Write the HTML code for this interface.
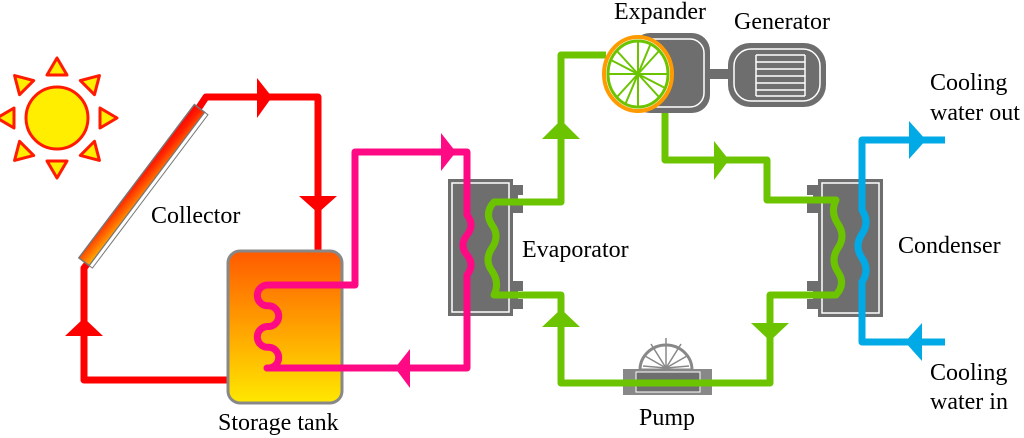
<!DOCTYPE html>
<html><head><meta charset="utf-8"><style>
html,body{margin:0;padding:0;background:#fff;width:1024px;height:438px;overflow:hidden}
text{font-family:"Liberation Serif",serif;font-size:24px;fill:#000}
</style></head><body>
<svg width="1024" height="438" viewBox="0 0 1024 438" xmlns="http://www.w3.org/2000/svg">
<defs>
<linearGradient id="tank" x1="0" y1="0" x2="0" y2="1"><stop offset="0" stop-color="#ff5a00"/><stop offset="1" stop-color="#ffe800"/></linearGradient>
<linearGradient id="col" x1="0" y1="1" x2="1" y2="0"><stop offset="0" stop-color="#ffb000"/><stop offset="0.7" stop-color="#ff2000"/><stop offset="1" stop-color="#ff0000"/></linearGradient>
</defs>
<!-- sun -->
<g fill="#ffee00" stroke="#ff1a00" stroke-width="3" stroke-linejoin="round">
<circle cx="57" cy="118" r="31"/>
<g id="ray"><polygon points="47,75 67,75 57,58"/></g>
<use href="#ray" transform="rotate(45 57 118)"/><use href="#ray" transform="rotate(90 57 118)"/><use href="#ray" transform="rotate(135 57 118)"/><use href="#ray" transform="rotate(180 57 118)"/><use href="#ray" transform="rotate(225 57 118)"/><use href="#ray" transform="rotate(270 57 118)"/><use href="#ray" transform="rotate(315 57 118)"/>
</g>
<!-- red loop -->
<g fill="none" stroke="#ff0000" stroke-width="7" stroke-linejoin="round">
<polyline points="196,112 206,97 318,97 318,252"/>
<polyline points="92,258 84,268 84,380 228,380"/>
</g>
<g fill="#ff0000">
<polygon points="257,78 257,118 272,97"/>
<polygon points="299,196 337,196 318,213"/>
<polygon points="65,336 103,336 84,318"/>
</g>
<!-- collector -->
<g transform="translate(143,186) rotate(-53)">
<rect x="-96" y="-8" width="192" height="13" fill="url(#col)" stroke="#777" stroke-width="1.5"/>
<rect x="-96" y="5" width="192" height="4" fill="#fff" stroke="#777" stroke-width="1"/>
</g>
<!-- tank -->
<rect x="228" y="251" width="114" height="152" rx="12" fill="url(#tank)" stroke="#888" stroke-width="3"/>
<!-- evaporator -->
<rect x="448" y="179" width="65" height="137" fill="#6e6e6e"/>
<rect x="452" y="183" width="57" height="129" fill="none" stroke="#fff" stroke-width="1.5"/>
<rect x="513" y="185" width="10" height="10" fill="#6e6e6e"/><rect x="513" y="203" width="10" height="10" fill="#6e6e6e"/><rect x="513" y="185" width="5" height="28" fill="#6e6e6e"/>
<rect x="513" y="281" width="10" height="10" fill="#6e6e6e"/><rect x="513" y="299" width="10" height="10" fill="#6e6e6e"/><rect x="513" y="281" width="5" height="28" fill="#6e6e6e"/>
<!-- pink -->
<g fill="none" stroke="#ff0a84" stroke-width="7" stroke-linejoin="round">
<path d="M355,285 L267,285 a10.4,10.4 0 0 0 0,20.75 l2,0 a10.4,10.4 0 0 1 0,20.75 l-2,0 a10.4,10.4 0 0 0 0,20.75 l2,0 a10.4,10.4 0 0 1 0,20.75 l-2,0 L467,368 L467,275 Q475,265 467,255 Q459,245 467,235 Q475,225 467,215 L467,152 L355,152 Z"/>
</g>
<g fill="#ff0a84">
<polygon points="441,133 441,171 456,152"/>
<polygon points="410,349 410,388 395,368"/>
</g>
<!-- condenser -->
<rect x="818" y="179" width="65" height="138" fill="#6e6e6e"/>
<rect x="822" y="183" width="57" height="130" fill="none" stroke="#fff" stroke-width="1.5"/>
<rect x="807" y="185" width="11" height="10" fill="#6e6e6e"/><rect x="807" y="203" width="11" height="10" fill="#6e6e6e"/><rect x="813" y="185" width="5" height="28" fill="#6e6e6e"/>
<rect x="807" y="281" width="11" height="10" fill="#6e6e6e"/><rect x="807" y="299" width="11" height="10" fill="#6e6e6e"/><rect x="813" y="281" width="5" height="28" fill="#6e6e6e"/>
<!-- green -->
<g fill="none" stroke="#6cc400" stroke-width="7" stroke-linejoin="round">
<path d="M606,55 L561,55 L561,202 L494,202 Q484,213 492,225 Q500,236 492,248 Q484,260 492,271 Q500,283 494,295 L561,295 L561,383 L770,383 L770,295 L836,295 Q846,284 838,272 Q830,260 838,248 Q846,236 838,224 Q830,212 836,200 L767,200 L767,160 L665,160 L665,113"/>
</g>
<g fill="#6cc400">
<polygon points="542,139 580,139 561,120"/>
<polygon points="542,327 580,327 561,309"/>
<polygon points="751,323 789,323 770,341"/>
<polygon points="714,141 714,180 729,160"/>
</g>
<!-- blue -->
<g fill="none" stroke="#00aae6" stroke-width="7" stroke-linejoin="round">
<path d="M945,140 L862,140 L862,210 Q870,222 862,234 Q854,246 862,258 Q870,270 862,282 L862,342 L945,342"/>
</g>
<g fill="#00aae6">
<polygon points="909,121 909,159 926,140"/>
<polygon points="922,323 922,361 905,342"/>
</g>
<!-- expander & generator -->
<rect x="632" y="33" width="78" height="80" rx="18" fill="#6e6e6e"/>
<rect x="638" y="39" width="66" height="68" rx="14" fill="none" stroke="#fff" stroke-width="1.5"/>
<rect x="708" y="69" width="22" height="10" fill="#6e6e6e"/>
<rect x="728" y="43" width="98" height="64" rx="22" fill="#6e6e6e"/>
<rect x="734" y="49" width="86" height="52" rx="17" fill="none" stroke="#fff" stroke-width="1.5"/>
<g stroke="#fff" stroke-width="1.5"><line x1="756" y1="55" x2="756" y2="96"/><line x1="805" y1="55" x2="805" y2="96"/>
<line x1="756" y1="55" x2="805" y2="55"/><line x1="756" y1="62" x2="805" y2="62"/><line x1="756" y1="69" x2="805" y2="69"/><line x1="756" y1="76" x2="805" y2="76"/><line x1="756" y1="83" x2="805" y2="83"/><line x1="756" y1="90" x2="805" y2="90"/><line x1="756" y1="96" x2="805" y2="96"/></g>
<ellipse cx="638" cy="74" rx="34" ry="37" fill="#fff" stroke="#ff9a00" stroke-width="4"/>
<ellipse cx="638" cy="74" rx="30" ry="33" fill="none" stroke="#6cc400" stroke-width="3"/>
<g stroke="#6cc400" stroke-width="2">
<line x1="638" y1="74" x2="638" y2="42"/><line x1="638" y1="74" x2="638" y2="106"/><line x1="638" y1="74" x2="609" y2="74"/><line x1="638" y1="74" x2="667" y2="74"/>
<line x1="638" y1="74" x2="617" y2="51"/><line x1="638" y1="74" x2="659" y2="97"/><line x1="638" y1="74" x2="659" y2="51"/><line x1="638" y1="74" x2="617" y2="97"/>
<line x1="638" y1="74" x2="611" y2="60"/><line x1="638" y1="74" x2="665" y2="88"/><line x1="638" y1="74" x2="651" y2="43"/><line x1="638" y1="74" x2="625" y2="105"/>
</g>
<!-- pump -->
<path d="M640,370 a26,25 0 1 1 52,0 z" fill="#fff" stroke="#888" stroke-width="3"/>
<g stroke="#888" stroke-width="1.5"><line x1="666" y1="368" x2="666" y2="338"/><line x1="666" y1="368" x2="645" y2="356"/><line x1="666" y1="368" x2="687" y2="356"/><line x1="666" y1="368" x2="651" y2="344"/><line x1="666" y1="368" x2="681" y2="344"/><line x1="666" y1="368" x2="643" y2="366"/><line x1="666" y1="368" x2="689" y2="366"/></g>
<rect x="623" y="369" width="89" height="26" fill="#888"/>
<rect x="636" y="372" width="64" height="20" fill="#6e6e6e" stroke="#fff" stroke-width="1"/>
<line x1="600" y1="383" x2="730" y2="383" stroke="#6cc400" stroke-width="7"/>
<!-- labels -->
<text x="151" y="223">Collector</text>
<text x="218" y="430">Storage tank</text>
<text x="522" y="257">Evaporator</text>
<text x="614" y="19">Expander</text>
<text x="734" y="29">Generator</text>
<text x="930" y="90">Cooling</text>
<text x="930" y="120">water out</text>
<text x="898" y="253">Condenser</text>
<text x="639" y="425">Pump</text>
<text x="930" y="380">Cooling</text>
<text x="930" y="409">water in</text>
</svg>
</body></html>
